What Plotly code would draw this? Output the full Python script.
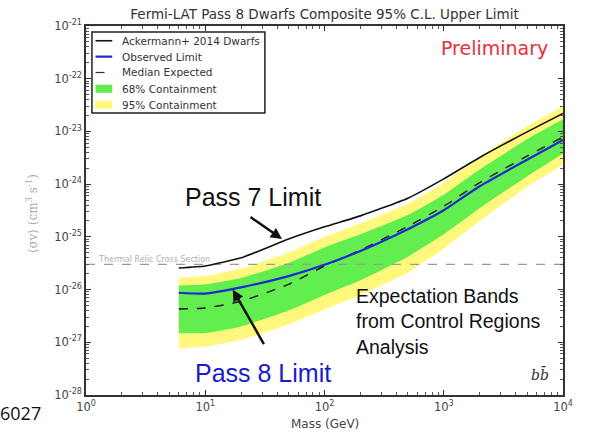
import math
import plotly.graph_objects as go

# ---------------- data ----------------
mass = [6, 10, 20, 50, 100, 200, 500, 1000, 2000, 5000, 10000]

ackermann = [2.57e-26, 2.8e-26, 4.0e-26, 9.1e-26, 1.55e-25, 2.5e-25, 5.4e-25,
             1.26e-24, 3.2e-24, 9.8e-24, 2.2e-23]
observed = [8.7e-27, 8.4e-27, 1.1e-26, 1.8e-26, 2.95e-26, 5.4e-26, 1.4e-25,
            3.2e-25, 9.1e-25, 2.9e-24, 6.9e-24]
median = [4.27e-27, 4.47e-27, 6.0e-27, 1.26e-26, 2.8e-26, 5.6e-26, 1.58e-25,
          3.8e-25, 1.07e-24, 3.4e-24, 7.8e-24]
green_hi = [1.2e-26, 1.26e-26, 1.66e-26, 3.2e-26, 6.3e-26, 1.12e-25, 2.6e-25,
            6.3e-25, 1.9e-24, 7.1e-24, 1.7e-23]
green_lo = [1.48e-27, 1.5e-27, 2.0e-27, 4.0e-27, 7.9e-27, 1.5e-26, 4.2e-26,
            1.12e-25, 3.5e-25, 1.4e-24, 3.8e-24]
yellow_hi = [1.66e-26, 1.8e-26, 2.5e-26, 5.0e-26, 1.0e-25, 1.8e-25, 4.2e-25,
             1.05e-24, 3.3e-24, 1.26e-23, 3.0e-23]
yellow_lo = [7.6e-28, 8.3e-28, 1.12e-27, 2.2e-27, 4.2e-27, 7.9e-27, 2.1e-26,
             6.0e-26, 2.0e-25, 8.9e-25, 2.3e-24]

thermal_relic = 3e-26
x_range = [1, 1e4]

y_tick_exps = [-28, -27, -26, -25, -24, -23, -22, -21]
x_tick_exps = [0, 1, 2, 3, 4]

legend_labels = ["Ackermann+ 2014 Dwarfs", "Observed Limit", "Median Expected",
                 "68% Containment", "95% Containment"]

pass7_tip = (44, 9.1e-26)
pass8_tip = (17, 1.0e-26)

# ---------------- styling ----------------
GREEN = "#63EE4F"
YELLOW = "#FFF87C"
BLUE = "#1C2BD0"
BLACK = "#111111"
SPL = dict(shape="spline", smoothing=0.5)

fig = go.Figure()

# 95% band
fig.add_trace(go.Scatter(x=mass, y=yellow_lo, mode="lines", line=dict(width=0, **SPL),
                         showlegend=False, hoverinfo="skip"))
fig.add_trace(go.Scatter(x=mass, y=yellow_hi, mode="lines", line=dict(width=0, **SPL),
                         fill="tonexty", fillcolor=YELLOW, showlegend=False))
# 68% band
fig.add_trace(go.Scatter(x=mass, y=green_lo, mode="lines", line=dict(width=0, **SPL),
                         showlegend=False, hoverinfo="skip"))
fig.add_trace(go.Scatter(x=mass, y=green_hi, mode="lines", line=dict(width=0, **SPL),
                         fill="tonexty", fillcolor=GREEN, showlegend=False))

# thermal relic line
fig.add_trace(go.Scatter(x=x_range, y=[thermal_relic, thermal_relic], mode="lines",
                         line=dict(color="#9a9a9a", width=1.2, dash="dash"),
                         showlegend=False, hoverinfo="skip"))

fig.add_trace(go.Scatter(x=mass, y=median, mode="lines", showlegend=False,
                         line=dict(color="#1a1a1a", width=1.4, dash="dash", **SPL)))
fig.add_trace(go.Scatter(x=mass, y=observed, mode="lines", showlegend=False,
                         line=dict(color=BLUE, width=2.2, **SPL)))
fig.add_trace(go.Scatter(x=mass, y=ackermann, mode="lines", showlegend=False,
                         line=dict(color=BLACK, width=1.6, **SPL)))

tick_font = dict(family="DejaVu Sans", size=11.5, color="#444444")

x_minor = [k * 10 ** e for e in x_tick_exps[:-1] for k in range(2, 10)]
y_minor = [k * 10.0 ** e for e in y_tick_exps[:-1] for k in range(2, 10)]

fig.update_xaxes(
    type="log", range=[0, 4], automargin=False,
    tickvals=[10 ** e for e in x_tick_exps],
    ticktext=[f"10<sup>{e}</sup>" for e in x_tick_exps],
    ticks="inside", ticklen=5, tickcolor="#333333",
    minor=dict(tickvals=x_minor, ticks="inside", ticklen=3, tickcolor="#555555",
               showgrid=False),
    showline=True, linecolor="#333333", linewidth=1.5, mirror="ticks",
    showgrid=False, zeroline=False, tickfont=tick_font,
)
fig.update_yaxes(
    type="log", range=[-28, -21], automargin=False,
    tickvals=[10 ** e for e in y_tick_exps],
    ticktext=[f"10<sup>{e}</sup>" for e in y_tick_exps],
    ticks="inside", ticklen=5, tickcolor="#333333",
    minor=dict(tickvals=y_minor, ticks="inside", ticklen=3, tickcolor="#555555",
               showgrid=False),
    showline=True, linecolor="#333333", linewidth=1.5, mirror="ticks",
    showgrid=False, zeroline=False, tickfont=tick_font,
)

# ---------------- manual legend (matplotlib-like compact box) ----------------
shapes = []
annotations = []
L_X0, L_X1, L_Y0, L_Y1 = 0.0125, 0.375, 0.764, 0.984
shapes.append(dict(type="rect", xref="paper", yref="paper", x0=L_X0, x1=L_X1,
                   y0=L_Y0, y1=L_Y1, line=dict(color="#222222", width=1.5),
                   fillcolor="white", layer="above"))
row_y = [0.960, 0.917, 0.874, 0.830, 0.787]
sx0, sx1, tx = 0.020, 0.055, 0.071
line_styles = [dict(color=BLACK, width=1.6), dict(color=BLUE, width=2.2),
               dict(color="#333333", width=1.2, dash="dash")]
for i, lab in enumerate(legend_labels):
    y = row_y[i]
    if i < 3:
        shapes.append(dict(type="line", xref="paper", yref="paper", x0=sx0, x1=sx1,
                           y0=y, y1=y, line=line_styles[i], layer="above"))
    else:
        col = GREEN if i == 3 else YELLOW
        shapes.append(dict(type="rect", xref="paper", yref="paper", x0=sx0, x1=sx1,
                           y0=y - 0.011, y1=y + 0.011, line=dict(width=0),
                           fillcolor=col, layer="above"))
    annotations.append(dict(text=lab, xref="paper", yref="paper", x=tx, y=y,
                            xanchor="left", yanchor="middle", showarrow=False,
                            font=dict(family="DejaVu Sans", size=10.5, color="#333333")))

annotations += [
    # axis titles
    dict(text="Mass (GeV)", xref="paper", yref="paper", x=0.5, y=-0.079,
         xanchor="center", yanchor="middle", showarrow=False,
         font=dict(family="DejaVu Sans", size=12, color="#444444")),
    dict(text="⟨σv⟩ (cm<sup>3</sup> s<sup>-1</sup>)", xref="paper", yref="paper",
         x=-0.113, y=0.49, xanchor="center", yanchor="middle", textangle=-90,
         showarrow=False, font=dict(family="DejaVu Serif", size=12, color="#aaaaaa")),
    dict(text="Preliminary", xref="paper", yref="paper", x=0.972, y=0.94,
         xanchor="right", yanchor="middle", showarrow=False,
         font=dict(family="DejaVu Sans", size=19, color="#E8303A")),
    dict(text="Thermal Relic Cross Section", xref="paper", yref="y",
         x=0.02, y=math.log10(thermal_relic), xanchor="left", yanchor="bottom",
         showarrow=False, yshift=-2,
         font=dict(family="DejaVu Sans", size=8, color="#b0b0b0")),
    dict(text="Pass 7 Limit", xref="paper", yref="paper", x=0.35, y=0.537,
         xanchor="center", yanchor="middle", showarrow=False,
         font=dict(family="Liberation Sans", size=25, color=BLACK)),
    dict(text="", x=math.log10(pass7_tip[0]), y=math.log10(pass7_tip[1]),
         xref="x", yref="y", showarrow=True, ax=-33, ay=-23, arrowhead=2,
         arrowsize=0.9, arrowwidth=2.5, arrowcolor=BLACK),
    dict(text="Pass 8 Limit", xref="paper", yref="paper", x=0.372, y=0.060,
         xanchor="center", yanchor="middle", showarrow=False,
         font=dict(family="Liberation Sans", size=25, color="#1A1ACC")),
    dict(text="", x=math.log10(pass8_tip[0]), y=math.log10(pass8_tip[1]),
         xref="x", yref="y", showarrow=True, ax=32, ay=56, arrowhead=2,
         arrowsize=0.9, arrowwidth=2.5, arrowcolor=BLACK),
    dict(text="Expectation Bands<br>from Control Regions<br>Analysis", xref="paper",
         yref="paper", x=0.562, y=0.200, xanchor="left", yanchor="middle",
         align="left", showarrow=False,
         font=dict(family="Liberation Sans", size=19.5, color=BLACK)),
    dict(text="<i>bb\u0304</i>", xref="paper", yref="paper", x=0.975, y=0.055,
         xanchor="right", yanchor="middle", showarrow=False,
         font=dict(family="DejaVu Serif", size=14, color="#333333")),
    dict(text="6027", xref="paper", yref="paper", x=-0.185, y=-0.05,
         xanchor="left", yanchor="middle", showarrow=False,
         font=dict(family="Open Sans", size=18, color=BLACK)),
]

fig.update_layout(
    width=589, height=434,
    margin=dict(l=86, r=26, t=26, b=39, autoexpand=False),
    paper_bgcolor="white", plot_bgcolor="white",
    title=dict(text="Fermi-LAT Pass 8 Dwarfs Composite 95% C.L. Upper Limit",
               x=0.551, xanchor="center", y=0.966, yanchor="middle",
               font=dict(family="DejaVu Sans", size=13.5, color="#333333")),
    shapes=shapes,
    annotations=annotations,
    showlegend=False,
)

fig.write_html("out.html")
